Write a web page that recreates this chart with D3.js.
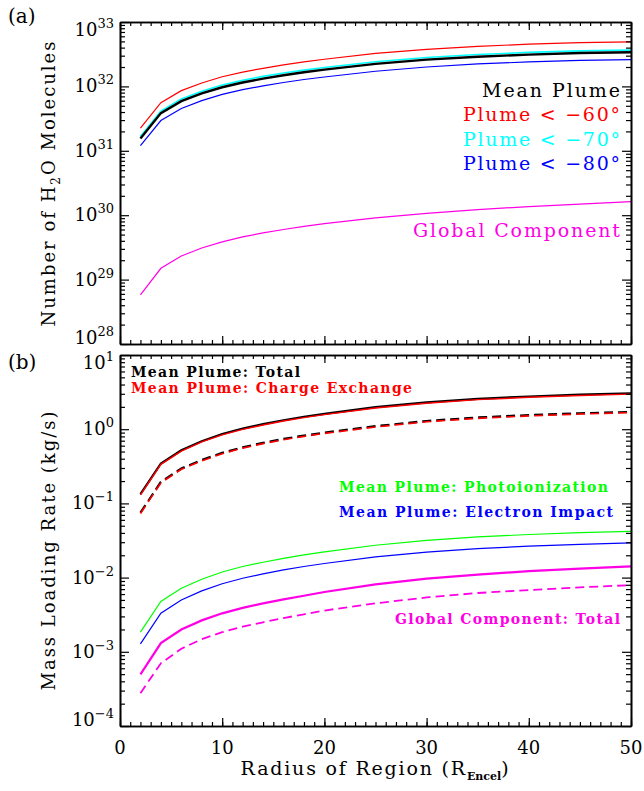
<!DOCTYPE html>
<html>
<head>
<meta charset="utf-8">
<script src="https://cdn.jsdelivr.net/npm/d3@7"></script>
<style>
  body { margin: 0; background: #fff; }
  text { font-family: "DejaVu Serif", serif; }
</style>
</head>
<body>
<div id="plot-container"></div>
<script>
// ##################################
//  DATA
// ##################################

const radius = [2, 4, 6, 8, 10, 12, 14, 16, 18, 20, 25, 30, 35, 40, 45, 50]

// (a) number of H2O molecules
const meanPlume = [1.55e31, 3.85e31, 5.9e31, 7.8e31, 9.7e31, 1.15e32, 1.32e32, 1.49e32, 1.66e32, 1.82e32, 2.24e32, 2.6e32, 2.89e32, 3.12e32, 3.3e32, 3.39e32]
const plume60 = [2.25e31, 5.6e31, 8.6e31, 1.13e32, 1.41e32, 1.67e32, 1.91e32, 2.16e32, 2.41e32, 2.64e32, 3.25e32, 3.77e32, 4.19e32, 4.52e32, 4.78e32, 4.92e32]
const plume70 = [1.67e31, 4.15e31, 6.4e31, 8.4e31, 1.05e32, 1.24e32, 1.43e32, 1.61e32, 1.79e32, 1.97e32, 2.42e32, 2.81e32, 3.12e32, 3.37e32, 3.56e32, 3.66e32]
const plume80 = [1.2e31, 2.95e31, 4.55e31, 6.0e31, 7.5e31, 8.9e31, 1.02e32, 1.15e32, 1.28e32, 1.4e32, 1.72e32, 2.0e32, 2.23e32, 2.4e32, 2.54e32, 2.61e32]
const globalComp = [5.8e28, 1.5e29, 2.33e29, 3.1e29, 3.85e29, 4.6e29, 5.3e29, 6.0e29, 6.7e29, 7.4e29, 9.1e29, 1.07e30, 1.22e30, 1.36e30, 1.49e30, 1.62e30]

// (b) mass loading rate, kg/s
const plumeTotal = [0.133, 0.345, 0.52, 0.69, 0.86, 1.02, 1.17, 1.32, 1.47, 1.61, 1.98, 2.3, 2.56, 2.76, 2.92, 3.05]
const plumeCharge = [0.13, 0.336, 0.507, 0.673, 0.839, 0.995, 1.14, 1.29, 1.43, 1.57, 1.93, 2.24, 2.5, 2.69, 2.85, 2.97]
const plumeTotalDash = [0.075, 0.195, 0.295, 0.385, 0.48, 0.57, 0.655, 0.74, 0.82, 0.9, 1.1, 1.29, 1.44, 1.55, 1.64, 1.71]
const plumeChargeDash = [0.073, 0.19, 0.288, 0.375, 0.468, 0.556, 0.639, 0.722, 0.8, 0.878, 1.07, 1.26, 1.4, 1.51, 1.6, 1.67]
const plumePhoto = [0.00184, 0.00476, 0.00718, 0.0095, 0.0119, 0.0141, 0.0161, 0.0182, 0.0203, 0.0222, 0.0273, 0.0317, 0.0353, 0.0381, 0.0403, 0.0421]
const plumeElectron = [0.00128, 0.00331, 0.005, 0.00662, 0.00826, 0.0098, 0.0112, 0.0127, 0.0141, 0.0155, 0.019, 0.0221, 0.0246, 0.0265, 0.028, 0.0293]
const globalTotal = [0.000495, 0.00131, 0.002, 0.00265, 0.0033, 0.0039, 0.0045, 0.0051, 0.0057, 0.0064, 0.0081, 0.0097, 0.011, 0.0122, 0.0132, 0.0142]
const globalTotalDash = [0.000277, 0.0007, 0.0011, 0.00148, 0.00184, 0.00218, 0.0025, 0.00285, 0.0032, 0.0036, 0.0045, 0.0054, 0.0062, 0.0068, 0.0074, 0.0079]

const xTicks = [0, 10, 20, 30, 40, 50]
const topDecades = [28, 29, 30, 31, 32, 33]
const botDecades = [-4, -3, -2, -1, 0, 1]

// ##################################
//  CONSTANTS
// ##################################

const width = 644
const height = 791
const left = 120
const right = 631
const panelA = { y0: 22, y1: 344 }
const panelB = { y0: 355, y1: 726 }

const RED = "#ff0000"
const CYAN = "#00ffff"
const BLUE = "#0000ff"
const MAGENTA = "#ff00e6"
const GREEN = "#00ff00"

const svg = d3
  .select("div#plot-container")
  .append("svg")
  .attr("width", width)
  .attr("height", height)

const x = d3.scaleLinear().domain([0, 50]).range([left, right])
const yTop = d3.scaleLog().domain([1e28, 1e33]).range([panelA.y1, panelA.y0])
const yBot = d3.scaleLog().domain([1e-4, 1e1]).range([panelB.y1, panelB.y0])

// ##################################
//  AXIS FUNCTIONS
// ##################################

const minorLog = (decades) =>
  decades.slice(0, -1).flatMap((d) => d3.range(2, 10).map((m) => m * 10 ** d))

const frame = (y, panel, decades, showX) => {
  const majorY = decades.map((d) => 10 ** d)
  const axes = [
    [d3.axisBottom(x), `translate(0,${panel.y1})`, d3.range(0, 51, 10), d3.range(0, 51, 1), 8, 4],
    [d3.axisTop(x), `translate(0,${panel.y0})`, d3.range(0, 51, 10), d3.range(0, 51, 1), 8, 4],
    [d3.axisLeft(y), `translate(${left},0)`, majorY, minorLog(decades), 9, 5],
    [d3.axisRight(y), `translate(${right},0)`, majorY, minorLog(decades), 9, 5],
  ]
  axes.forEach(([ax, tr, major, minor, big, small]) => {
    const g = svg.append("g").attr("transform", tr)
    g.append("g").call(ax.tickValues(minor).tickSize(-small).tickSizeOuter(0).tickFormat(""))
    g.append("g").call(ax.tickValues(major).tickSize(-big).tickSizeOuter(0).tickFormat(""))
    g.selectAll("text").remove()
    g.selectAll("path.domain").attr("stroke-width", 1.6)
    g.selectAll(".tick line").attr("stroke-width", 1.2)
  })

  // y labels: 10 with superscript exponent
  svg
    .append("g")
    .selectAll("text")
    .data(decades)
    .join("text")
    .attr("x", left - 6)
    .attr("y", (d, i) =>
      i === decades.length - 1 ? y(10 ** d) + 14 : i === 0 ? y(10 ** d) : y(10 ** d) + 6
    )
    .attr("text-anchor", "end")
    .attr("font-size", 18)
    .text("10")
    .append("tspan")
    .attr("dy", -8)
    .attr("font-size", 13)
    .text((d) => String(d).replace("-", "\u2212"))

  if (showX) {
    svg
      .append("g")
      .selectAll("text")
      .data(xTicks)
      .join("text")
      .attr("x", (d) => x(d))
      .attr("y", 754)
      .attr("text-anchor", "middle")
      .attr("font-size", 18)
      .text((d) => d)
  }
}

const line = (y) =>
  d3
    .line()
    .x((d, i) => x(radius[i]))
    .y((d) => y(d))

const drawSeries = (y, series) =>
  svg
    .append("g")
    .attr("fill", "none")
    .selectAll("path")
    .data(series)
    .join("path")
    .attr("stroke", (d) => d.color)
    .attr("stroke-width", (d) => d.width)
    .attr("stroke-dasharray", (d) => d.dash || null)
    .attr("d", (d) => line(y)(d.values))

const label = (txt, xPos, yPos, color, size, len, anchor = "start", weight = "normal") =>
  svg
    .append("text")
    .attr("x", xPos)
    .attr("y", yPos)
    .attr("fill", color)
    .attr("font-size", size)
    .attr("font-weight", weight)
    .attr("text-anchor", anchor)
    .attr("textLength", len)
    .attr("lengthAdjust", "spacing")
    .text(txt)

// ##################################
//  PANEL (a)
// ##################################

drawSeries(yTop, [
  { values: globalComp, color: MAGENTA, width: 1.2 },
  { values: plume60, color: RED, width: 1.2 },
  { values: plume80, color: BLUE, width: 1.2 },
  { values: plume70, color: CYAN, width: 1.6 },
  { values: meanPlume, color: "#000", width: 2.4 },
])
frame(yTop, panelA, topDecades, false)

label("Mean Plume", 620, 97, "#000", 19, 138, "end")
label("Plume < \u221260\u00b0", 620, 121, RED, 19, 157, "end")
label("Plume < \u221270\u00b0", 620, 145.5, CYAN, 19, 157, "end")
label("Plume < \u221280\u00b0", 620, 170, BLUE, 19, 157, "end")
label("Global Component", 620, 237, MAGENTA, 19, 207, "end")

// ##################################
//  PANEL (b)
// ##################################

drawSeries(yBot, [
  { values: globalTotalDash, color: MAGENTA, width: 1.8, dash: "9,5" },
  { values: globalTotal, color: MAGENTA, width: 2.2 },
  { values: plumeElectron, color: BLUE, width: 1.2 },
  { values: plumePhoto, color: GREEN, width: 1.2 },
  { values: plumeTotalDash, color: "#000", width: 2.2, dash: "9,5" },
  { values: plumeChargeDash, color: RED, width: 1.6, dash: "9,5" },
  { values: plumeTotal, color: "#000", width: 2.2 },
  { values: plumeCharge, color: RED, width: 1.4 },
])
frame(yBot, panelB, botDecades, true)

label("Mean Plume: Total", 131, 376.7, "#000", 14, 169, "start", "bold")
label("Mean Plume: Charge Exchange", 131, 393.3, RED, 14, 281, "start", "bold")
label("Mean Plume: Photoionization", 339, 492.3, GREEN, 14, 269, "start", "bold")
label("Mean Plume: Electron Impact", 339, 516.7, BLUE, 14, 274, "start", "bold")
label("Global Component: Total", 620, 624.3, MAGENTA, 14, 225, "end", "bold")

// ##################################
//  TITLES
// ##################################

svg.append("text").attr("x", 8).attr("y", 23).attr("font-size", 20).text("(a)")
svg.append("text").attr("x", 8).attr("y", 369).attr("font-size", 20).text("(b)")

const yTitleTop = svg
  .append("text")
  .attr("transform", `translate(55,${(panelA.y0 + panelA.y1) / 2}) rotate(-90)`)
  .attr("text-anchor", "middle")
  .attr("font-size", 18)
  .attr("letter-spacing", 2)
yTitleTop.append("tspan").text("Number of H")
yTitleTop.append("tspan").attr("font-size", 12).attr("dy", 5).text("2")
yTitleTop.append("tspan").attr("dy", -5).text("O Molecules")

svg
  .append("text")
  .attr("transform", `translate(55,550) rotate(-90)`)
  .attr("text-anchor", "middle")
  .attr("font-size", 18)
  .attr("letter-spacing", 2)
  .text("Mass Loading Rate (kg/s)")

const xTitle = svg
  .append("text")
  .attr("x", (left + right) / 2)
  .attr("y", 775)
  .attr("text-anchor", "middle")
  .attr("font-size", 19)
  .attr("letter-spacing", 1.8)
xTitle.append("tspan").text("Radius of Region (R")
xTitle.append("tspan").attr("font-size", 11).attr("font-weight", "bold").attr("dy", 5).attr("letter-spacing", 0).text("Encel")
xTitle.append("tspan").attr("dy", -5).text(")")
</script>
</body>
</html>
